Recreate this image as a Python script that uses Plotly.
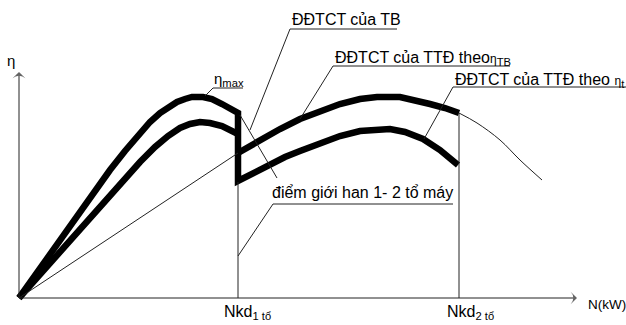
import plotly.graph_objects as go

# ---- data (N in arbitrary kW units, eta in arbitrary units) ----
N_kd1 = 219
N_kd2 = 440

# efficiency curve of one unit (eta_max), then the drop at Nkd1 and the 2-unit curve (eta_t)
outer_N   = [0, 41, 76, 91, 106, 121, 131, 141, 151, 158, 166, 173, 184, 193, 203, 213, 219,
             219, 236, 251, 266, 281, 301, 321, 341, 358, 371, 386, 404, 421, 439]
outer_eta = [0, 58, 107, 128, 147, 165, 176, 185, 192, 196, 199, 201, 201, 199, 194, 188, 185,
             117, 126, 134, 141, 147, 155, 162, 167, 169, 169, 166, 159, 148, 133]

# lower curve of one unit
inner_N   = [0, 41, 81, 106, 121, 136, 149, 161, 171, 181, 191, 203, 213, 219]
inner_eta = [0, 46, 91, 120, 136, 151, 162, 170, 174, 176, 175, 172, 167, 164]

# two-unit curve by eta_TB
upper2_N   = [219, 231, 241, 261, 281, 301, 321, 341, 358, 381, 396, 411, 426, 440]
upper2_eta = [145, 152, 158, 169, 179, 187, 194, 199, 201, 201, 198, 194, 190, 185]

# thin continuation beyond Nkd2
cont_N   = [440, 458, 481, 501, 523]
cont_eta = [185, 175, 158, 138, 118]

# thin straight line from origin to the limit point
tan_N   = [0, 219]
tan_eta = [0, 145]

# limit verticals
vert_N   = [N_kd1, N_kd2]
vert_top = [116, 185]

# axes extents
x_axis_end = 558
y_axis_end = 226

# leader lines (callouts) and their labels
leaders = [
    ([231, 271, 378], [168, 269, 269]),
    ([281, 314, 491], [179, 232, 232]),
    ([405, 434, 607], [159, 211, 211]),
    ([186, 194, 224], [202, 210, 210]),
    ([221, 258], [183, 120]),
    ([219, 254, 434], [42, 94, 94]),
]
label_text = [
    "ĐĐTCT của TB",
    "ĐĐTCT của TTĐ theo<span style='font-size:12px'>η</span><sub>TB</sub>",
    "ĐĐTCT của TTĐ theo <span style='font-size:12px'>η</span><sub>t</sub>",
    "<span style='font-size:15px'>η</span><sub>max</sub>",
    "điểm giới han 1- 2 tổ máy",
]
label_N   = [271, 314, 434, 193, 251]
label_eta = [279, 240, 218, 219, 106]

tick_text = ["Nkd<sub>1 tổ</sub>", "Nkd<sub>2 tổ</sub>"]
tick_N    = [203, 426]

FONT = "Liberation Sans, Arial, sans-serif"

fig = go.Figure()
thick = dict(color="black", width=6.5)
thin = dict(color="#222", width=1)

fig.add_trace(go.Scatter(x=outer_N, y=outer_eta, mode="lines", line=thick))
fig.add_trace(go.Scatter(x=inner_N, y=inner_eta, mode="lines", line=thick))
fig.add_trace(go.Scatter(x=upper2_N, y=upper2_eta, mode="lines", line=thick))
fig.add_trace(go.Scatter(x=cont_N, y=cont_eta, mode="lines", line=dict(color="#222", width=1, shape="spline")))
fig.add_trace(go.Scatter(x=tan_N, y=tan_eta, mode="lines", line=thin))
for n, t in zip(vert_N, vert_top):
    fig.add_trace(go.Scatter(x=[n, n], y=[0, t], mode="lines", line=thin))
for lx, ly in leaders:
    fig.add_trace(go.Scatter(x=lx, y=ly, mode="lines", line=thin))

# axes with arrow heads
arrow_marker = dict(symbol=["circle", "arrow-wide"], size=[0, 9], angleref="previous",
                    color="#222", line=dict(width=0))
fig.add_trace(go.Scatter(x=[0, x_axis_end], y=[0, 0], mode="lines+markers", line=thin, marker=arrow_marker))
fig.add_trace(go.Scatter(x=[0, 0], y=[0, y_axis_end], mode="lines+markers", line=thin, marker=arrow_marker))

for t, n, e in zip(label_text, label_N, label_eta):
    fig.add_annotation(x=n, y=e, text=t, showarrow=False, xanchor="left", yanchor="middle",
                       font=dict(family=FONT, size=16, color="black"))
for t, n in zip(tick_text, tick_N):
    fig.add_annotation(x=n, y=-14, text=t, showarrow=False, xanchor="left", yanchor="middle",
                       font=dict(family=FONT, size=16, color="black"))
fig.add_annotation(x=567, y=-6, text="N(kW)", showarrow=False, xanchor="left", yanchor="middle",
                   font=dict(family=FONT, size=13.5, color="black"))
fig.add_annotation(x=-14, y=238, text="η", showarrow=False, xanchor="left", yanchor="middle",
                   font=dict(family=FONT, size=15, color="black"))

fig.update_layout(
    width=626, height=325, margin=dict(l=0, r=0, t=0, b=0),
    paper_bgcolor="white", plot_bgcolor="white", showlegend=False,
    xaxis=dict(range=[-19, 607], visible=False, fixedrange=True),
    yaxis=dict(range=[-27, 298], visible=False, fixedrange=True),
)
fig.write_html("out.html", config={"displayModeBar": False},
               post_script="document.body.style.margin='0';document.body.style.overflow='hidden';")
